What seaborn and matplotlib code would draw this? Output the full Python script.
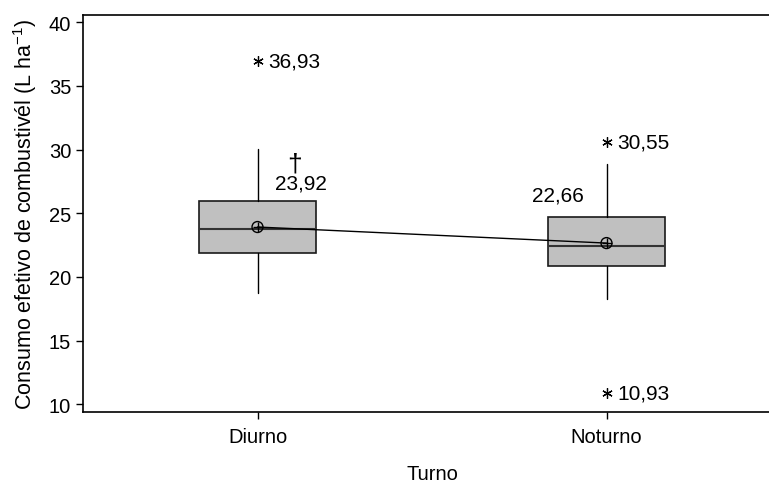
import matplotlib
matplotlib.use("Agg")
import matplotlib.pyplot as plt
import seaborn as sns

# Summary statistics per shift (L ha-1)
turnos = ["Diurno", "Noturno"]
q1 = [21.85, 20.83]
mediana = [23.74, 22.40]
q3 = [25.94, 24.68]
bigode_inf = [18.71, 18.24]
bigode_sup = [30.02, 28.85]
outliers = [[36.93], [30.55, 10.93]]
medias = [23.92, 22.66]
y_ticks = [10, 15, 20, 25, 30, 35, 40]

sns.set_style("ticks")
plt.rcParams["font.family"] = ["Liberation Sans", "DejaVu Sans"]
plt.rcParams["mathtext.default"] = "regular"
plt.rcParams["text.color"] = "black"
plt.rcParams["axes.labelcolor"] = "black"
plt.rcParams["xtick.color"] = "black"
plt.rcParams["ytick.color"] = "black"

fig = plt.figure(figsize=(7.69, 4.85), dpi=100)
ax = fig.add_axes([83 / 769, 72.5 / 485, 698 / 769, 396.5 / 485])

pos = list(range(len(turnos)))
stats = [
    dict(med=mediana[i], q1=q1[i], q3=q3[i], whislo=bigode_inf[i],
         whishi=bigode_sup[i], fliers=[], label=turnos[i])
    for i in pos
]
ax.bxp(stats, positions=pos, widths=0.335, showcaps=False, patch_artist=True,
       boxprops=dict(facecolor="#c0c0c0", edgecolor="#1a1a1a", linewidth=1.2),
       medianprops=dict(color="#333333", linewidth=1.5),
       whiskerprops=dict(color="black", linewidth=1.0))

# Mean connect line with circled-plus markers
sns.lineplot(x=pos, y=medias, color="black", linewidth=1.0, ax=ax, zorder=4)
ax.scatter(pos, medias, s=62, facecolors="none", edgecolors="black",
           linewidths=1.0, zorder=5)
ax.scatter(pos, medias, s=62, marker="+", color="black", linewidths=1.0,
           zorder=5)


def fmt(v):
    return f"{v:.2f}".replace(".", ",")


# Outliers as asterisks with value labels
for i, vals in enumerate(outliers):
    for v in vals:
        ax.plot(i, v, marker=(6, 2, 0), color="black", markersize=7.5,
                markeredgewidth=0.9, zorder=5)
        ax.text(i + 0.032, v, fmt(v), ha="left", va="center", fontsize=15)

# Mean value labels
ax.text(0.106, 28.92, "†", ha="center", va="center", fontsize=19)
ax.text(0.124, 27.35, fmt(medias[0]), ha="center", va="center", fontsize=15)
ax.text(0.861, 26.41, fmt(medias[1]), ha="center", va="center", fontsize=15)

ax.set_xlim(-0.5, 1.5)
ax.set_ylim(9.45, 40.55)
ax.set_yticks(y_ticks)
ax.set_xticks(pos)
ax.set_xticklabels(turnos)
ax.tick_params(axis="both", labelsize=14.5, length=5, width=1, color="black",
               direction="out")
ax.tick_params(axis="x", pad=6)
ax.set_xlabel("Turno", fontsize=14.5, labelpad=13)
ax.set_ylabel("Consumo efetivo de combustivél (L ha$^{-1}$)", fontsize=15.5,
              labelpad=7)
for side in ["left", "top", "bottom"]:
    ax.spines[side].set_visible(True)
    ax.spines[side].set_color("black")
    ax.spines[side].set_linewidth(1.2)
ax.spines["right"].set_visible(False)

fig.savefig("out.png", dpi=100)
